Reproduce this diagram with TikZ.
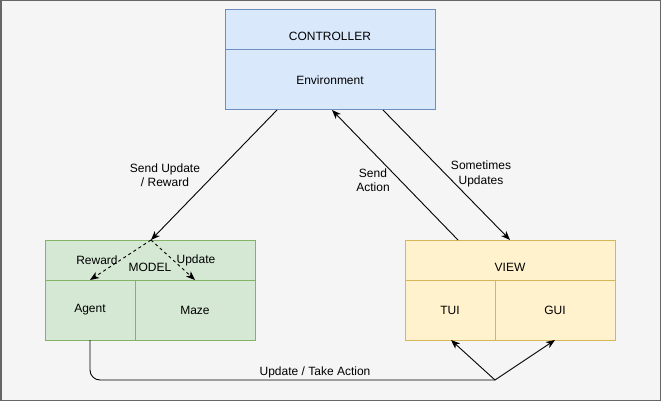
\documentclass[tikz,border=0pt]{standalone}
\usepackage{fontspec}
\setmainfont{Liberation Sans}
\usetikzlibrary{arrows.meta,calc}
\definecolor{bgc}{HTML}{F5F5F5}
\definecolor{bordc}{HTML}{666666}
\definecolor{cfill}{HTML}{DAE8FC}
\definecolor{cline}{HTML}{6C8EBF}
\definecolor{mfill}{HTML}{D5E8D4}
\definecolor{mline}{HTML}{82B366}
\definecolor{vfill}{HTML}{FFF2CC}
\definecolor{vline}{HTML}{D6B656}
\begin{document}
\begin{tikzpicture}[x=1pt,y=-1pt,
  font=\fontsize{12}{14.5}\selectfont,
  box/.style={draw, line width=1pt, inner sep=0pt, outer sep=0pt, anchor=north west},
  cbox/.style={box, fill=cfill, draw=cline},
  mbox/.style={box, fill=mfill, draw=mline},
  vbox/.style={box, fill=vfill, draw=vline},
  arr/.style={line width=0.9pt, -{Stealth[length=9pt,width=7pt,inset=2.5pt]}},
  lbl/.style={align=center, inner sep=1pt}]
\useasboundingbox (0,0) rectangle (661,401);
\fill[bgc] (0,0) rectangle (661,401);
\draw[bordc, line width=1.5pt] (0.75,0.75) rectangle (660.25,400.25);

% Controller
\node[cbox, minimum width=210pt, minimum height=40pt] (ctrlh) at (225,10) {};
\node[cbox, minimum width=210pt, minimum height=60pt] (env) at (225,50) {Environment};
\node (ctrlt) at (330,36) {CONTROLLER};

% Model
\node[mbox, minimum width=210pt, minimum height=40pt] (modelh) at (45,240) {};
\node[mbox, minimum width=90pt, minimum height=60pt] (agent) at (45,280) {Agent};
\node[mbox, minimum width=120pt, minimum height=60pt] (maze) at (135,280) {Maze};
\node (modelt) at (150,267) {MODEL};

% View
\node[vbox, minimum width=210pt, minimum height=40pt] (viewh) at (405,240) {};
\node[vbox, minimum width=90pt, minimum height=60pt] (tui) at (405,280) {TUI};
\node[vbox, minimum width=120pt, minimum height=60pt] (gui) at (495,280) {GUI};
\node (viewt) at (510,267) {VIEW};

% connection points
\coordinate (cs1) at ($(env.south west)+(52,0)$);
\coordinate (cs2) at ($(env.south west)+(107,0)$);
\coordinate (cs3) at ($(env.south west)+(158,0)$);
\coordinate (mt) at ($(modelh.north west)+(106,0)$);
\coordinate (vt1) at ($(viewh.north west)+(53,0)$);
\coordinate (vt2) at ($(viewh.north west)+(105,0)$);
\coordinate (j) at (495,380);

% edges
\draw[arr] (cs1) -- (mt);
\draw[arr, dashed] (mt) -- (agent.north);
\draw[arr, dashed] (mt) -- (maze.north);
\draw[arr] (vt1) -- (cs2);
\draw[arr] (cs3) -- (vt2);
\draw[line width=0.9pt, rounded corners=10pt] (agent.south) -- (agent.south |- j) -- (j);
\draw[arr] (j) -- ($(tui.south)+(1,0)$);
\draw[arr] (j) -- (gui.south);

% labels
\node[lbl] (l1) at (165,175) {Send Update\\/ Reward};
\node[lbl] (l2) at (373,180) {Send\\Action};
\node[lbl] (l3) at (481,174) {Sometimes\\Updates};
\node[lbl] (l4) at (315,372) {Update / Take Action};
\node[lbl] (l5) at (97,260) {Reward};
\node[lbl] (l6) at (196,260) {Update};
\end{tikzpicture}
\end{document}
